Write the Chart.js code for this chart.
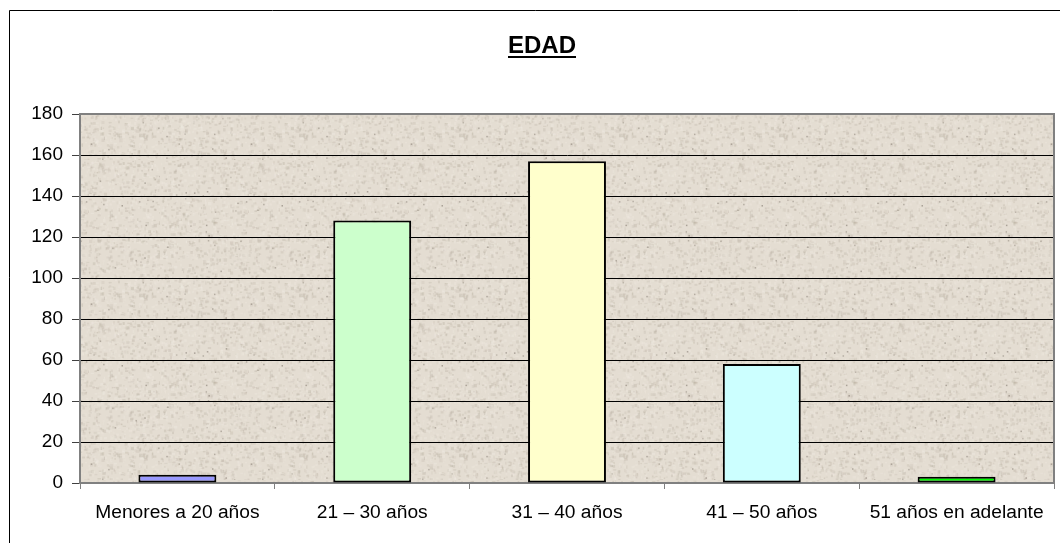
<!DOCTYPE html>
<html>
<head>
<meta charset="utf-8">
<script src="https://cdn.jsdelivr.net/npm/chart.js@4/dist/chart.umd.min.js"></script>
<style>
  html, body { margin: 0; padding: 0; background: #ffffff; }
  #wrap { width: 1060px; height: 543px; position: relative; }
</style>
</head>
<body>
<div id="wrap"><canvas id="chart" width="1060" height="543"></canvas></div>
<script>
// Age groups and respondent counts
const categories = ['Menores a 20 años', '21 – 30 años', '31 – 40 años', '41 – 50 años', '51 años en adelante'];
const counts = [4, 128, 157, 58, 3];
const barColors = ['#9999FF', '#CCFFCC', '#FFFFCC', '#CCFFFF', '#00FF00'];
const yTicks = [0, 20, 40, 60, 80, 100, 120, 140, 160, 180];
const chartTitle = 'EDAD';

const FONT = "'Liberation Sans', Arial, sans-serif";

// Parchment-like fill tile for the plot area (deterministic speckle)
function makeTexture() {
  const size = 160;
  const c = document.createElement('canvas');
  c.width = size; c.height = size;
  const g = c.getContext('2d');
  g.fillStyle = '#E4DDD2';
  g.fillRect(0, 0, size, size);
  let s = 12345;
  const rnd = () => { s = (s * 1103515245 + 12345) & 0x7fffffff; return s / 0x7fffffff; };
  for (let i = 0; i < 2600; i++) {
    const x = rnd() * size, y = rnd() * size;
    const light = rnd() < 0.5;
    const a = 0.10 + rnd() * 0.18;
    g.fillStyle = light ? `rgba(245,240,232,${a})` : `rgba(170,160,145,${a})`;
    const w = 1 + rnd() * 2.5, h = 1 + rnd() * 2.5;
    g.fillRect(x, y, w, h);
  }
  for (let i = 0; i < 60; i++) {
    const x = rnd() * size, y = rnd() * size;
    g.fillStyle = `rgba(120,110,100,${0.25 + rnd() * 0.3})`;
    g.fillRect(x, y, 1.5, 1.5);
  }
  return c;
}
const texture = makeTexture();

const framePlugin = {
  id: 'frame',
  beforeDraw(chart) {
    const { ctx, chartArea: a } = chart;
    ctx.save();
    // outer chart frame (left and top edges are on the page)
    ctx.strokeStyle = '#000000';
    ctx.lineWidth = 1;
    ctx.beginPath();
    ctx.moveTo(9.5, 560);
    ctx.lineTo(9.5, 10.5);
    ctx.lineTo(1080, 10.5);
    ctx.stroke();
    // textured plot area
    ctx.fillStyle = ctx.createPattern(texture, 'repeat');
    ctx.fillRect(a.left, a.top, a.right - a.left, a.bottom - a.top);
    ctx.restore();
  },
  afterDraw(chart) {
    const { ctx, chartArea: a } = chart;
    ctx.save();
    // plot area border on top and right
    ctx.strokeStyle = '#808080';
    ctx.lineWidth = 2;
    ctx.beginPath();
    ctx.moveTo(a.left, a.top);
    ctx.lineTo(a.right, a.top);
    ctx.lineTo(a.right, a.bottom);
    ctx.stroke();
    // underlined title
    ctx.fillStyle = '#000000';
    ctx.font = `bold 24px ${FONT}`;
    ctx.textAlign = 'center';
    ctx.textBaseline = 'alphabetic';
    const cx = 542, by = 53;
    ctx.fillText(chartTitle, cx, by);
    const w = ctx.measureText(chartTitle).width;
    ctx.fillRect(cx - w / 2, by + 3, w, 2);
    ctx.restore();
  }
};

new Chart(document.getElementById('chart'), {
  type: 'bar',
  data: {
    labels: categories,
    datasets: [{
      data: counts,
      backgroundColor: barColors,
      borderColor: '#000000',
      borderWidth: 2,
      borderSkipped: false,
      barPercentage: 0.4,
      categoryPercentage: 1.0
    }]
  },
  options: {
    responsive: false,
    animation: false,
    devicePixelRatio: 1,
    layout: { padding: { top: 114, right: 6, left: 0, bottom: 0 } },
    plugins: {
      legend: { display: false },
      title: { display: false },
      tooltip: { enabled: false }
    },
    scales: {
      x: {
        offset: true,
        grid: {
          offset: true,
          drawOnChartArea: false,
          drawTicks: true,
          tickLength: 6,
          color: '#808080',
          lineWidth: 1
        },
        border: { color: '#808080', width: 2 },
        ticks: {
          color: '#000000',
          font: { family: FONT, size: 19.2 },
          padding: 12,
          maxRotation: 0,
          autoSkip: false
        },
        afterFit(scale) { scale.height = 60; }
      },
      y: {
        min: 0,
        max: 180,
        afterBuildTicks(scale) { scale.ticks = yTicks.map(v => ({ value: v })); },
        grid: {
          color: '#000000',
          tickColor: '#404040',
          lineWidth: 1,
          drawTicks: true,
          tickLength: 8
        },
        border: { color: '#808080', width: 2 },
        ticks: {
          color: '#000000',
          font: { family: FONT, size: 19 },
          padding: 9
        },
        afterFit(scale) { scale.width = 80; }
      }
    }
  },
  plugins: [framePlugin]
});
</script>
</body>
</html>
